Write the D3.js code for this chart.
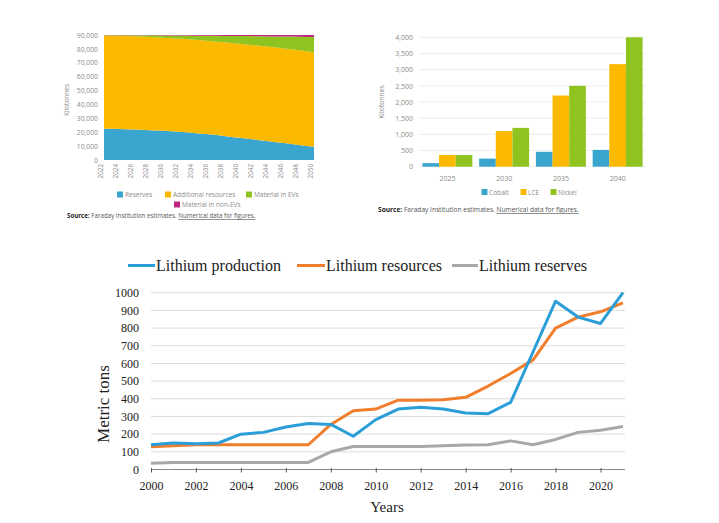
<!DOCTYPE html>
<html>
<head>
<meta charset="utf-8">
<script src="https://cdn.jsdelivr.net/npm/d3@7"></script>
<style>
  html, body { margin: 0; padding: 0; background: #fff; }
  svg { display: block; }
</style>
</head>
<body>
<svg id="chart" width="719" height="523"></svg>
<script>
// ---------- Data: top-left stacked area (kilotonnes) ----------
const areaYears = [2022,2024,2026,2028,2030,2032,2034,2036,2038,2040,2042,2044,2046,2048,2050];
const reservesArea = [22500,22300,22000,21500,21000,20300,19500,18500,17300,16000,14800,13500,12200,10800,9500];
const additionalResources = [67200,67150,67100,67150,67100,67100,67100,67200,67400,67700,67800,68000,68050,68200,68000];
const materialInEVs = [200,400,700,1100,1600,2200,2900,3700,4600,5500,6500,7500,8600,9700,11000];
const materialInNonEVs = [100,150,200,250,300,400,500,600,700,800,900,1000,1150,1300,1500];
const areaTickValues = [0,10000,20000,30000,40000,50000,60000,70000,80000,90000];
const areaSeriesNames = ["Reserves","Additional resources","Material in EVs","Material in non-EVs"];

// ---------- Data: top-right grouped bars (kilotonnes) ----------
const barCategories = ["2025","2030","2035","2040"];
const cobalt = [110,250,460,520];
const lce = [360,1100,2200,3170];
const nickel = [360,1200,2500,4000];
const barTickValues = [0,500,1000,1500,2000,2500,3000,3500,4000];
const barSeriesNames = ["Cobalt","LCE","Nickel"];

// ---------- Data: bottom line chart (metric tons) ----------
const lineYears = [2000,2001,2002,2003,2004,2005,2006,2007,2008,2009,2010,2011,2012,2013,2014,2015,2016,2017,2018,2019,2020,2021];
const lithiumProduction = [140,150,145,150,200,210,240,260,255,188,282,342,352,342,320,316,380,666,952,862,826,1000];
const lithiumResources = [128,135,140,140,140,140,140,140,255,332,342,392,392,395,408,472,543,620,800,862,892,942];
const lithiumReserves = [35,40,40,40,40,40,40,40,100,130,130,130,130,135,138,140,162,140,170,210,222,243];
const lineTickValuesY = [0,100,200,300,400,500,600,700,800,900,1000];
const lineTickValuesX = [2000,2002,2004,2006,2008,2010,2012,2014,2016,2018,2020];
const lineSeriesNames = ["Lithium production","Lithium resources","Lithium reserves"];

const svg = d3.select("#chart");
svg.append("rect").attr("width",719).attr("height",523).attr("fill","#fff");

const sans = "'Open Sans', 'Noto Sans', sans-serif";
const serif = "'Liberation Serif', 'DejaVu Serif', serif";
const tickGrey = "#8c8c8c";

// ================= TOP-LEFT: stacked area =================
{
  const g = svg.append("g");
  const x = d3.scaleLinear().domain([2022,2050]).range([104,314]);
  const y = d3.scaleLinear().domain([0,90000]).range([160,35]);
  const colors = ["#3aa6cf","#fbb900","#8fc31f","#c0267f"];
  const rows = areaYears.map((yr,i)=>({year:yr, r:reservesArea[i], a:additionalResources[i], e:materialInEVs[i], n:materialInNonEVs[i]}));
  const stack = d3.stack().keys(["r","a","e","n"])(rows);
  const area = d3.area().x(d=>x(d.data.year)).y0(d=>y(d[0])).y1(d=>y(d[1])).curve(d3.curveMonotoneX);
  g.selectAll("path.layer").data(stack).join("path")
    .attr("class","layer").attr("d",area).attr("fill",(d,i)=>colors[i]);

  // y ticks
  const yAxis = d3.axisLeft(y).tickValues(areaTickValues).tickSize(0).tickPadding(6).tickFormat(d3.format(","));
  const ya = g.append("g").attr("transform","translate(104,0)").call(yAxis);
  ya.select(".domain").remove();
  ya.selectAll("text").attr("font-family",sans).attr("font-size",6.8).attr("fill",tickGrey);

  // x ticks (rotated)
  const xAxis = d3.axisBottom(x).tickValues(areaYears).tickSize(0).tickPadding(4).tickFormat(d3.format("d"));
  const xa = g.append("g").attr("transform","translate(0,160)").call(xAxis);
  xa.select(".domain").remove();
  xa.selectAll("text").attr("font-family",sans).attr("font-size",6.3).attr("fill",tickGrey)
    .attr("transform","rotate(-90)").attr("text-anchor","end").attr("dx","-4").attr("dy","-0.3em")
    .attr("x",0).attr("y",0);

  g.append("text").attr("transform","translate(69,100) rotate(-90)").attr("text-anchor","middle")
    .attr("font-family",sans).attr("font-size",6.5).attr("fill",tickGrey).text("Kilotonnes");

  // legend
  const leg = [
    {name:areaSeriesNames[0], c:colors[0], x:117, y:195},
    {name:areaSeriesNames[1], c:colors[1], x:165, y:195},
    {name:areaSeriesNames[2], c:colors[2], x:246, y:195},
    {name:areaSeriesNames[3], c:colors[3], x:174, y:205}
  ];
  leg.forEach(l=>{
    g.append("rect").attr("x",l.x).attr("y",l.y-3.5).attr("width",6).attr("height",6).attr("fill",l.c);
    g.append("text").attr("x",l.x+8).attr("y",l.y+2).attr("font-family",sans).attr("font-size",6.5)
      .attr("fill",tickGrey).text(l.name);
  });

  const src = g.append("text").attr("x",67).attr("y",218).attr("font-family",sans).attr("font-size",6.2).attr("fill","#555");
  src.append("tspan").attr("font-weight","bold").attr("fill","#222").text("Source:");
  src.append("tspan").text(" Faraday Institution estimates. ");
  src.append("tspan").attr("text-decoration","underline").text("Numerical data for figures.");
}

// ================= TOP-RIGHT: grouped bars =================
{
  const g = svg.append("g");
  const x0 = d3.scaleBand().domain(barCategories).range([419,646]).paddingInner(0.12).paddingOuter(0.06);
  const x1 = d3.scaleBand().domain(barSeriesNames).range([0,x0.bandwidth()]);
  const y = d3.scaleLinear().domain([0,4000]).range([166.7,37.3]);
  const colors = ["#3aa6cf","#fbb900","#8fc31f"];
  const series = [cobalt,lce,nickel];

  // gridlines
  g.selectAll("line.grid").data(barTickValues).join("line").attr("class","grid")
    .attr("x1",419).attr("x2",646).attr("y1",d=>y(d)).attr("y2",d=>y(d))
    .attr("stroke","#e8e8e8").attr("stroke-width",0.8);

  barCategories.forEach((cat,ci)=>{
    series.forEach((s,si)=>{
      g.append("rect").attr("x",x0(cat)+x1(barSeriesNames[si])).attr("width",x1.bandwidth())
        .attr("y",y(s[ci])).attr("height",y(0)-y(s[ci])).attr("fill",colors[si]);
    });
  });

  const yAxis = d3.axisLeft(y).tickValues(barTickValues).tickSize(0).tickPadding(6).tickFormat(d3.format(","));
  const ya = g.append("g").attr("transform","translate(419,0)").call(yAxis);
  ya.select(".domain").remove();
  ya.selectAll("text").attr("font-family",sans).attr("font-size",7).attr("fill",tickGrey);

  const xAxis = d3.axisBottom(x0).tickSize(0).tickPadding(9);
  const xa = g.append("g").attr("transform","translate(0,166.7)").call(xAxis);
  xa.select(".domain").remove();
  xa.selectAll("text").attr("font-family",sans).attr("font-size",7).attr("fill",tickGrey);

  g.append("text").attr("transform","translate(384,102) rotate(-90)").attr("text-anchor","middle")
    .attr("font-family",sans).attr("font-size",6.8).attr("fill",tickGrey).text("Kilotonnes");

  const leg = [{x:481.5},{x:520.5},{x:550.5}];
  leg.forEach((l,i)=>{
    g.append("rect").attr("x",l.x).attr("y",189).attr("width",6).attr("height",6).attr("fill",colors[i]);
    g.append("text").attr("x",l.x+7.5).attr("y",194.5).attr("font-family",sans).attr("font-size",6.6)
      .attr("fill",tickGrey).text(barSeriesNames[i]);
  });

  const src = g.append("text").attr("x",378).attr("y",212).attr("font-family",sans).attr("font-size",6.6).attr("fill","#555");
  src.append("tspan").attr("font-weight","bold").attr("fill","#222").text("Source:");
  src.append("tspan").text(" Faraday Institution estimates. ");
  src.append("tspan").attr("text-decoration","underline").text("Numerical data for figures.");
}

// ================= BOTTOM: line chart =================
{
  const g = svg.append("g");
  const x = d3.scaleLinear().domain([2000,2021]).range([151,623]);
  const y = d3.scaleLinear().domain([0,1000]).range([469.5,292.7]);
  const colors = ["#2b9ed8","#f17e2c","#a8a8a8"];
  const series = [lithiumProduction,lithiumResources,lithiumReserves];

  g.selectAll("line.grid").data(lineTickValuesY.filter(d=>d>0)).join("line").attr("class","grid")
    .attr("x1",151).attr("x2",625).attr("y1",d=>y(d)).attr("y2",d=>y(d))
    .attr("stroke","#dcdcdc").attr("stroke-width",1);

  const yAxis = d3.axisLeft(y).tickValues(lineTickValuesY).tickSize(0).tickPadding(12).tickFormat(d3.format("d"));
  const ya = g.append("g").attr("transform","translate(151,0)").call(yAxis);
  ya.select(".domain").remove();
  ya.selectAll("text").attr("font-family",serif).attr("font-size",12).attr("fill","#222");

  const xAxis = d3.axisBottom(x).tickValues(lineTickValuesX).tickSize(3).tickPadding(9).tickFormat(d3.format("d"));
  const xa = g.append("g").attr("transform","translate(0,469.5)").call(xAxis);
  xa.select(".domain").attr("d","M151,0H625").attr("stroke","#8a8a8a").attr("stroke-width",1.2);
  xa.selectAll(".tick line").attr("stroke","#555").attr("y1",-1.5);
  xa.selectAll("text").attr("font-family",serif).attr("font-size",12).attr("fill","#222");

  const line = d3.line().x((d,i)=>x(lineYears[i])).y(d=>y(d));
  // draw reserves first, then resources, then production on top
  [2,1,0].forEach(si=>{
    g.append("path").attr("d",line(series[si])).attr("fill","none")
      .attr("stroke",colors[si]).attr("stroke-width",3).attr("stroke-linejoin","round");
  });

  g.append("text").attr("x",387).attr("y",512).attr("text-anchor","middle")
    .attr("font-family",serif).attr("font-size",15).attr("fill","#222").text("Years");
  g.append("text").attr("transform","translate(109,404) rotate(-90)").attr("text-anchor","middle")
    .attr("font-family",serif).attr("font-size",17).attr("fill","#222").text("Metric tons");

  const leg = [{x1:128,x2:155},{x1:297,x2:325},{x1:452,x2:478}];
  leg.forEach((l,i)=>{
    g.append("line").attr("x1",l.x1).attr("x2",l.x2).attr("y1",265.5).attr("y2",265.5)
      .attr("stroke",colors[i]).attr("stroke-width",3);
    g.append("text").attr("x",l.x2+1).attr("y",270.5).attr("font-family",serif).attr("font-size",16)
      .attr("fill","#222").text(lineSeriesNames[i]);
  });
}
</script>
</body>
</html>
